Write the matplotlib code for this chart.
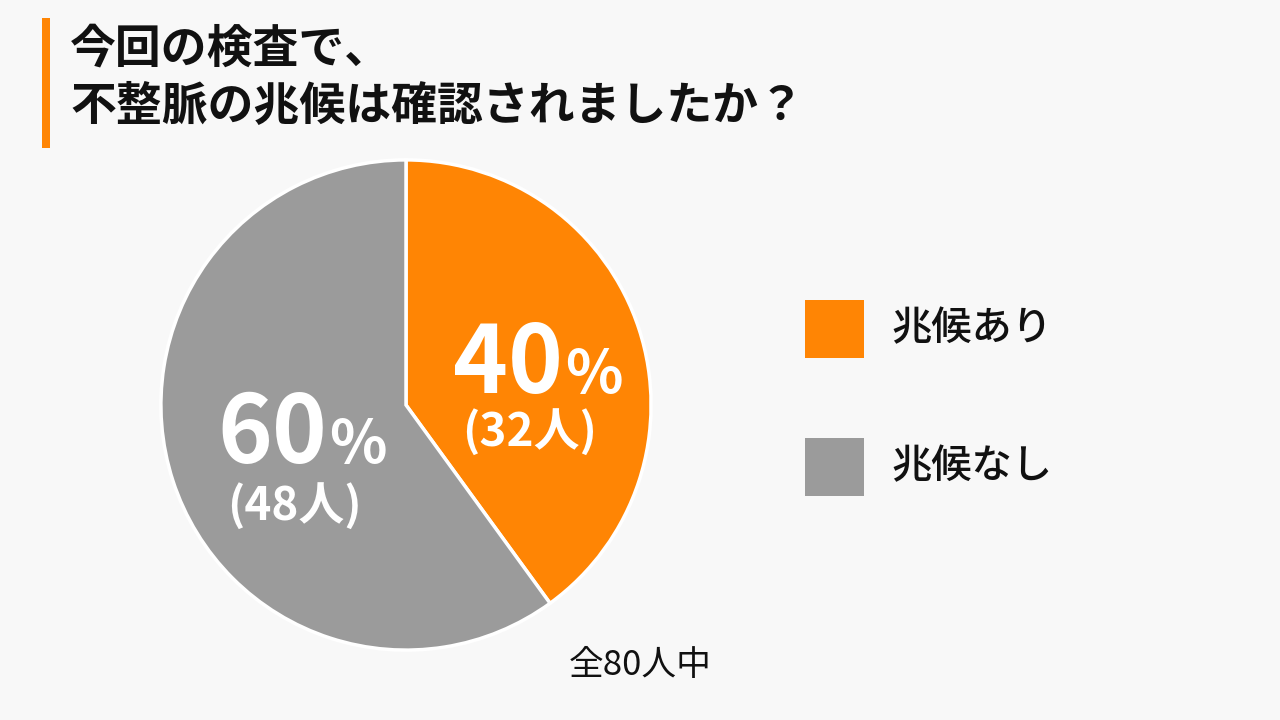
import matplotlib
matplotlib.use('Agg')
import matplotlib.pyplot as plt
from matplotlib.patches import Rectangle

plt.rcParams['font.family'] = ['Noto Sans CJK JP', 'DejaVu Sans']

# data
title_lines = ['今回の検査で、', '不整脈の兆候は確認されましたか？']
labels = ['兆候あり', '兆候なし']
percents = [40, 60]
counts = [32, 48]
total_note = '全80人中'
colors = ['#ff8504', '#9b9b9b']
bg = '#f8f8f8'

W, H = 1280, 720
fig = plt.figure(figsize=(W / 100, H / 100), dpi=100)
fig.patch.set_facecolor(bg)

def fx(px):
    return px / W

def fy(py):
    return 1 - py / H

# pie, centre (406, 405) px, radius ~245 px
cx, cy, half = 406, 405, 250
ax = fig.add_axes([fx(cx - half), fy(cy + half), 2 * half / W, 2 * half / H])
ax.pie(percents, colors=colors, startangle=90, counterclock=False,
       wedgeprops=dict(edgecolor='white', linewidth=2.5))
ax.set_xlim(-1.02, 1.02)
ax.set_ylim(-1.02, 1.02)
ax.set_aspect('equal')
ax.axis('off')

# labels inside the slices
# (x of number right edge, baseline of number, centre of count line)
label_pos = [(563, 393, 433), (327, 463, 507)]
for (xr, base, yc), p, n in zip(label_pos, percents, counts):
    fig.text(fx(xr), fy(base), str(p), color='white', fontsize=67,
             fontweight='bold', ha='right', va='baseline')
    fig.text(fx(xr + 2), fy(base), '%', color='white', fontsize=43,
             fontweight='bold', ha='left', va='baseline')
    fig.text(fx(xr - 33), fy(yc), '(%d人)' % n, color='white', fontsize=33,
             fontweight='bold', ha='center', va='center')

# title with orange bar
fig.add_artist(Rectangle((fx(42), fy(148)), fx(8), (148 - 18) / H,
                         transform=fig.transFigure, color='#ff8504', lw=0))
fig.text(fx(70), fy(50), title_lines[0], fontsize=33, fontweight='bold',
         ha='left', va='center', color='#111111')
fig.text(fx(70), fy(107), title_lines[1], fontsize=33, fontweight='bold',
         ha='left', va='center', color='#111111')

# legend
for i, (lab, c) in enumerate(zip(labels, colors)):
    ytop = 300 + i * 138
    fig.add_artist(Rectangle((fx(805), fy(ytop + 58)), fx(59), 58 / H,
                             transform=fig.transFigure, color=c, lw=0))
    fig.text(fx(891), fy(ytop + 29), lab, fontsize=29, fontweight='medium',
             ha='left', va='center', color='#111111')

fig.text(fx(640), fy(665), total_note, fontsize=25, ha='center',
         va='center', color='#111111')

fig.savefig('out.png', dpi=100, facecolor=bg)
